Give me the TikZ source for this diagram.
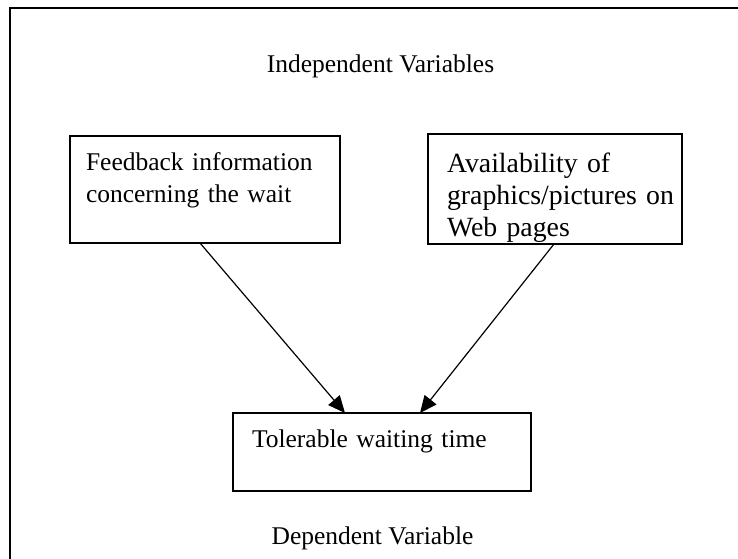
\documentclass[tikz,border=0pt]{standalone}
\usepackage{fontspec}
\setmainfont{Liberation Serif}
\usetikzlibrary{arrows.meta}
\def\mytextsize{\fontsize{25.5}{32}\selectfont}
\def\mybigsize{\fontsize{27.8}{32}\selectfont}

\begin{document}
\begin{tikzpicture}[x=1pt,y=-1pt,
  varbox/.style = {draw, line width=1.3pt, anchor=north west, inner ysep=0pt,
                   outer sep=0pt, align=left},
  tip/.style = {line width=1.2pt, -{Triangle[length=17pt,width=15pt]}}]
\useasboundingbox (0,0) rectangle (738,558);
\clip (0,0) rectangle (738,558);
%outer frame, cut off at right and bottom
\draw [line width=2.6pt] (10,580) -- (10,8) -- (760,8);

\node (indep) [anchor=base, font=\mytextsize] at (380.5,72) {Independent Variables};

\node (feedback) [varbox, font=\mytextsize, inner xsep=16pt, text width=238pt,
  text height=34pt, text depth=73pt] at (70,136)
  {Feedback information\\concerning the wait};
\node (graphics) [varbox, font=\mybigsize, inner xsep=19pt, text width=216pt,
  text height=38pt, text depth=72pt] at (428,134)
  {Availability of\\\mbox{graphics/pictures on}\\Web pages};
\node (waiting) [varbox, font=\mytextsize, inner xsep=19pt, text width=260pt,
  text height=34pt, text depth=44pt] at (233,413)
  {Tolerable waiting time};

\node (dep) [anchor=base, font=\mytextsize] at (372.5,544) {Dependent Variable};

%arrows into the dependent variable
\draw [tip] ([xshift=130pt]feedback.south west) -- ([xshift=112pt]waiting.north west);
\draw [tip] ([xshift=126pt]graphics.south west) -- ([xshift=187pt]waiting.north west);
\end{tikzpicture}
\end{document}
